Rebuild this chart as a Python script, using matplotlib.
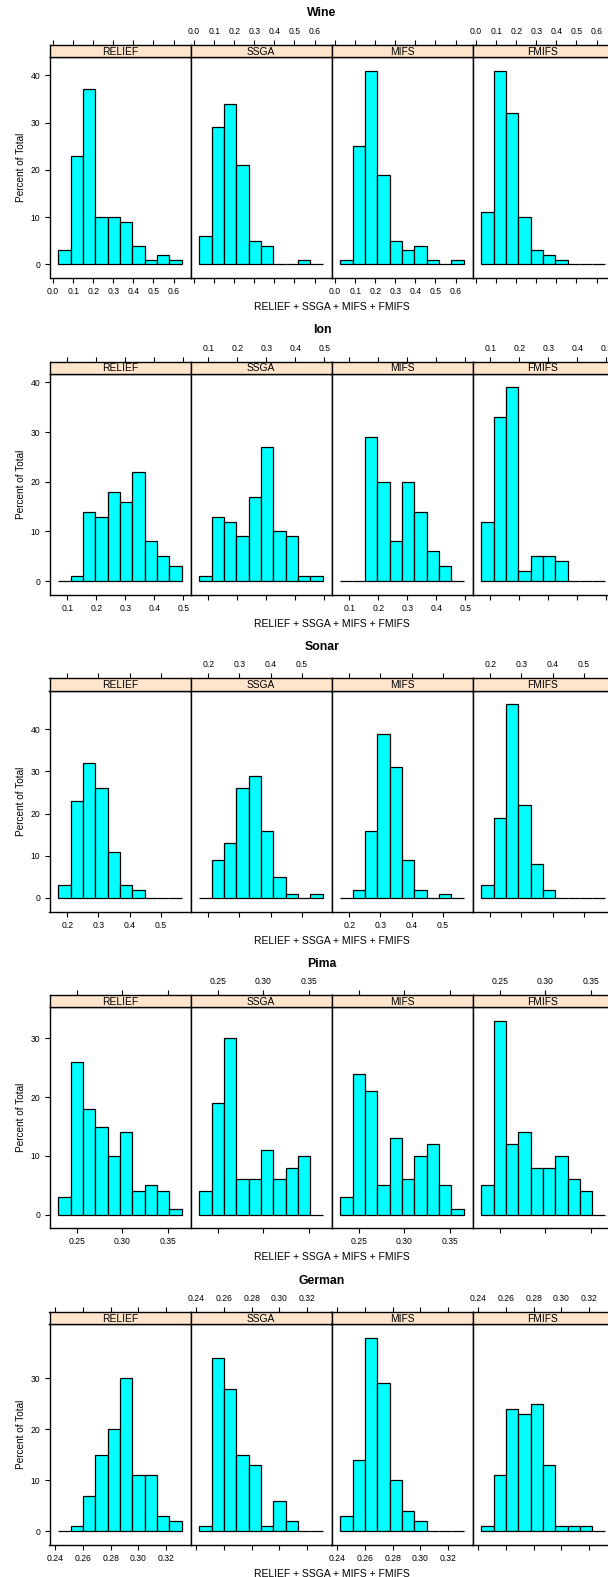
import numpy as np
import matplotlib.pyplot as plt

plt.rcParams['font.family'] = ['Liberation Sans', 'DejaVu Sans']

datasets = ["Wine", "Ion", "Sonar", "Pima", "German"]
methods = ["RELIEF", "SSGA", "MIFS", "FMIFS"]

# first and last histogram break per dataset (10 equal-width bins, shared by the 4 panels)
wine_breaks = (0.0248, 0.6415)
ion_breaks = (0.068, 0.4955)
sonar_breaks = (0.1703, 0.568)
pima_breaks = (0.2291, 0.3658)
german_breaks = (0.2421, 0.3314)

# percent of total per bin: RELIEF, SSGA, MIFS, FMIFS
wine_pct = [[3, 23, 37, 10, 10, 9, 4, 1, 2, 1],
            [6, 29, 34, 21, 5, 4, 0, 0, 1, 0],
            [1, 25, 41, 19, 5, 3, 4, 1, 0, 1],
            [11, 41, 32, 10, 3, 2, 1, 0, 0, 0]]
ion_pct = [[0, 1, 14, 13, 18, 16, 22, 8, 5, 3],
           [1, 13, 12, 9, 17, 27, 10, 9, 1, 1],
           [0, 0, 29, 20, 8, 20, 14, 6, 3, 0],
           [12, 33, 39, 2, 5, 5, 4, 0, 0, 0]]
sonar_pct = [[3, 23, 32, 26, 11, 3, 2, 0, 0, 0],
             [0, 9, 13, 26, 29, 16, 5, 1, 0, 1],
             [0, 2, 16, 39, 31, 9, 2, 0, 1, 0],
             [3, 19, 46, 22, 8, 2, 0, 0, 0, 0]]
pima_pct = [[3, 26, 18, 15, 10, 14, 4, 5, 4, 1],
            [4, 19, 30, 6, 6, 11, 6, 8, 10, 0],
            [3, 24, 21, 5, 13, 6, 10, 12, 5, 1],
            [5, 33, 12, 14, 8, 8, 10, 6, 4, 0]]
german_pct = [[0, 1, 7, 15, 20, 30, 11, 11, 3, 2],
              [1, 34, 28, 15, 13, 1, 6, 2, 0, 0],
              [3, 14, 38, 29, 10, 4, 2, 0, 0, 0],
              [1, 11, 24, 23, 25, 13, 1, 1, 1, 0]]

wine_xticks = [0.0, 0.1, 0.2, 0.3, 0.4, 0.5, 0.6]
ion_xticks = [0.1, 0.2, 0.3, 0.4, 0.5]
sonar_xticks = [0.2, 0.3, 0.4, 0.5]
pima_xticks = [0.25, 0.30, 0.35]
german_xticks = [0.24, 0.26, 0.28, 0.30, 0.32]

wine_yticks = [0, 10, 20, 30, 40]
ion_yticks = [0, 10, 20, 30, 40]
sonar_yticks = [0, 10, 20, 30, 40]
pima_yticks = [0, 10, 20, 30]
german_yticks = [0, 10, 20, 30]

blocks = [
    (wine_breaks, wine_pct, wine_xticks, "%.1f", wine_yticks),
    (ion_breaks, ion_pct, ion_xticks, "%.1f", ion_yticks),
    (sonar_breaks, sonar_pct, sonar_xticks, "%.1f", sonar_yticks),
    (pima_breaks, pima_pct, pima_xticks, "%.2f", pima_yticks),
    (german_breaks, german_pct, german_xticks, "%.2f", german_yticks),
]

W, H = 608, 1577
fig = plt.figure(figsize=(W / 100, H / 100), dpi=100)

strip_col = "#ffe5cc"
bar_col = "#00ffff"
tick_fs = 6.2

for b, (brk, pct, xt, fmt, yt) in enumerate(blocks):
    edges = np.linspace(brk[0], brk[1], 11)
    pad = 0.07 * (brk[1] - brk[0])
    xlim = (brk[0] - pad, brk[1] + pad)
    ymax = max(max(p) for p in pct)
    ylim = (-0.07 * ymax, 1.07 * ymax)

    strip_top = 45 + 316.75 * b
    strip_h = 12
    panel_top = strip_top + strip_h
    panel_bot = strip_top + 233

    for i, m in enumerate(methods):
        left = 49.5 + 141 * i
        ax = fig.add_axes([left / W, 1 - panel_bot / H, 141 / W, (panel_bot - panel_top) / H])
        ax.bar(edges[:-1], pct[i], width=np.diff(edges), align='edge',
               color=bar_col, edgecolor='black', linewidth=0.9)
        ax.set_xlim(xlim)
        ax.set_ylim(ylim)
        ax.set_xticks(xt)
        ax.set_xticklabels([fmt % v for v in xt])
        ax.tick_params(axis='x', direction='out', length=3.6, width=0.8, pad=3,
                       labelsize=tick_fs, top=False, labelbottom=(i % 2 == 0))
        if i == 0:
            ax.set_yticks(yt)
            ax.tick_params(axis='y', direction='out', length=3.6, width=0.8, pad=3,
                           labelsize=tick_fs)
            ax.set_ylabel("Percent of Total", fontsize=7.2, labelpad=3)
        else:
            ax.set_yticks([])
        for s in ax.spines.values():
            s.set_linewidth(1.0)

        sax = fig.add_axes([left / W, 1 - panel_top / H, 141 / W, strip_h / H])
        sax.set_facecolor(strip_col)
        sax.set_xlim(xlim)
        sax.set_ylim(0, 1)
        sax.set_yticks([])
        sax.set_xticks(xt)
        sax.set_xticklabels([fmt % v for v in xt])
        sax.tick_params(axis='x', direction='out', length=3.6, width=0.8, pad=3,
                        labelsize=tick_fs, bottom=False, labelbottom=False,
                        top=True, labeltop=(i % 2 == 1))
        for s in sax.spines.values():
            s.set_linewidth(1.0)
        sax.text(0.5, 0.45, m, transform=sax.transAxes, ha='center', va='center',
                 fontsize=7.4)

    fig.text(322 / W, 1 - (strip_top - 31.5) / H, datasets[b], ha='center', va='center',
             fontsize=8.8, fontweight='bold')
    fig.text(331.5 / W, 1 - (panel_bot + 29) / H, "RELIEF + SSGA + MIFS + FMIFS",
             ha='center', va='center', fontsize=7.5)

fig.savefig("out.png", dpi=100)
